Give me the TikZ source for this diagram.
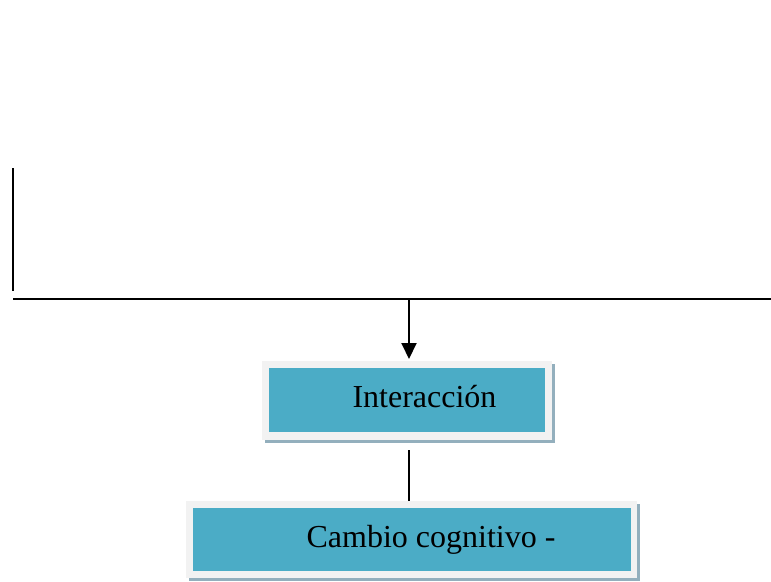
\documentclass[tikz,border=0pt]{standalone}
\usepackage{fontspec}
\setmainfont{Liberation Serif}
\usetikzlibrary{arrows.meta}
\definecolor{teal5}{HTML}{4BACC6}
\definecolor{frameg}{HTML}{F2F2F2}
\definecolor{shadowb}{HTML}{93AFBD}
\tikzset{
  line/.style={line width=2pt, black},
  framebox/.style={draw=none, fill=frameg, inner sep=0pt, outer sep=0pt},
  shadowbox/.style={draw=none, fill=shadowb, inner sep=0pt, outer sep=0pt},
  tealbox/.style={draw=none, fill=teal5, inner sep=0pt, outer sep=0pt},
  lbl/.style={font=\fontsize{32}{36}\selectfont, anchor=base, inner sep=0pt}
}
\begin{document}
\begin{tikzpicture}[x=1pt,y=-1pt]
\useasboundingbox (0,0) rectangle (771,581);
% lines
\coordinate (vt) at (13,168);
\coordinate (vb) at (13,291);
\coordinate (hl) at (13,299);
\coordinate (hr) at (771,299);
\coordinate (hm) at (409,299);
\draw[line] (vt) -- (vb);
\draw[line] (hl) -- (hr);
% box 1
\node[shadowbox, minimum width=290pt, minimum height=79pt] (s1) at (410,403.5) {};
\node[framebox, minimum width=290pt, minimum height=79pt] (f1) at (407,400.5) {};
\node[tealbox, minimum width=276pt, minimum height=64pt] (b1) at (407,400) {};
\node[lbl] (t1) at (424.5,407) {Interacción};
% box 2
\node[shadowbox, minimum width=451pt, minimum height=77pt] (s2) at (414.5,542.5) {};
\node[framebox, minimum width=451pt, minimum height=77pt] (f2) at (411.5,539.5) {};
\node[tealbox, minimum width=438pt, minimum height=63pt] (b2) at (412,539.5) {};
\node[lbl] (t2) at (431,547) {Cambio cognitivo -};
% connectors
\coordinate (a1) at ([yshift=2pt]f1.north);
\draw[line, -{Triangle[width=15pt,length=16pt]}] (hm) -- (hm |- a1);
\coordinate (c1) at (409,450);
\draw[line] (c1) -- (c1 |- f2.north);
\end{tikzpicture}
\end{document}
